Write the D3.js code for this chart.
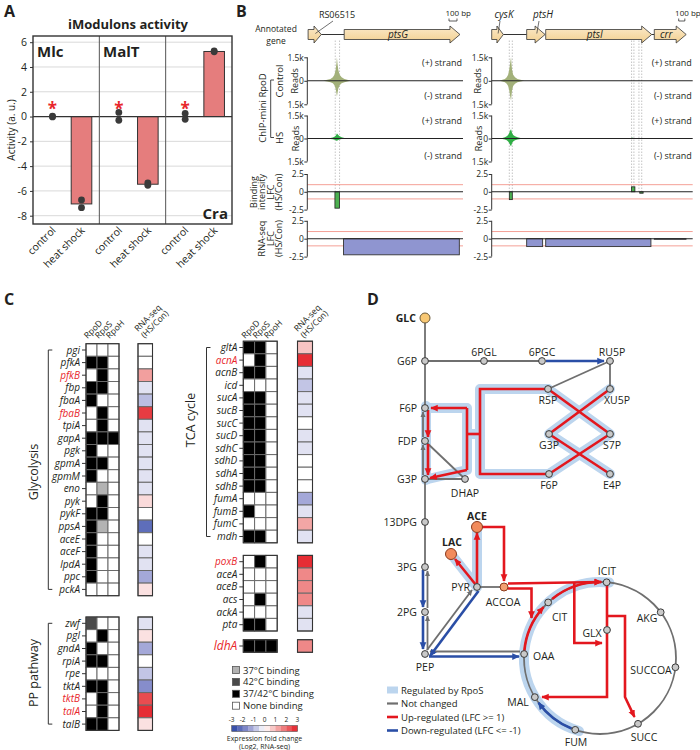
<!DOCTYPE html>
<html><head><meta charset="utf-8">
<script src="https://d3js.org/d3.v7.min.js"></script>
<style>html,body{margin:0;padding:0;background:#fff}</style>
</head><body>
<svg id="fig" width="700" height="750"></svg>
<script>
// ================= DATA =================
// Panel A – iModulon activities
const aGroups = ["Mlc","MalT","Cra"];
const aConds = ["control","heat shock"];
const aHeatMean = [-7.05,-5.46,5.25];
const aControlReps = [[0.03,-0.03],[0.33,-0.3],[0.25,-0.22]];
const aHeatReps = [[-6.73,-7.35],[-5.35,-5.55],[5.22,5.3]];
const aYTicks = [6,4,2,0,-2,-4,-6,-8];
const aSignifAt = [0.85,0.85,0.85];

// Panel B – ChIP / LFC tracks (bp relative to locus start)
const bGenesL = [{name:"RS06515",start:10,end:175,italic:false},{name:"ptsG",start:462,end:1912,italic:true}];
const bGenesR = [{name:"cysK",start:0,end:190,italic:true},{name:"ptsH",start:570,end:870,italic:true},{name:"ptsI",start:880,end:2608,italic:true},{name:"crr",start:2650,end:3170,italic:true}];
const bPeakPosL = [200,250,290,320,340,355,365,371,378,388,405,430,465,500,540];
const bCtrlPlusL = [0,60,120,220,380,700,1100,1500,1100,700,380,220,120,60,0];
const bCtrlMinusL = [0,40,90,160,280,500,800,1000,800,500,280,160,90,40,0];
const bHsPlusL = [0,20,40,70,110,180,260,330,300,230,150,80,40,15,0];
const bHsMinusL = [0,15,30,50,80,110,140,150,130,100,70,40,20,10,0];
const bPeakPosR = [130,175,215,245,268,285,300,315,322,332,350,380,420,470,530];
const bCtrlPlusR = [0,60,120,220,380,700,1100,1500,1100,700,380,220,120,60,0];
const bCtrlMinusR = [0,50,100,190,330,600,950,1250,950,600,330,190,100,50,0];
const bHsPlusR = [0,40,80,140,230,360,500,600,500,360,230,140,80,40,0];
const bHsMinusR = [0,35,70,120,190,300,420,500,420,300,190,120,70,35,0];
const bHsBlipPosR = [2262,2290,2318];
const bHsBlipR = [0,70,0];
const bBindL = [{start:346,end:404,lfc:-2.3}];
const bBindR = [{start:287,end:336,lfc:-1.1},{start:2280,end:2334,lfc:0.7},{start:2413,end:2468,lfc:-0.2}];
const bRnaL = [{start:454,end:1904,lfc:-2.25}];
const bRnaR = [{start:570,end:830,lfc:-1.1},{start:880,end:2595,lfc:-1.1},{start:2650,end:3167,lfc:-0.08}];
const bDashL = [350,404];
const bDashR = [287,336,2280,2318,2400,2445];

// Panel C – sigma factor binding (0 none,1 37C,2 42C,3 37/42C) and RNA-seq LFC
const sigmaCols = ["RpoD","RpoS","RpoH"];
const glyGenes = ["pgi","pfkA","pfkB","fbp","fbaA","fbaB","tpiA","gapA","pgk","gpmA","gpmM","eno","pyk","pykF","ppsA","aceE","aceF","lpdA","ppc","pckA"];
const glyBind = [[0,0,0],[3,3,0],[0,3,0],[3,3,0],[3,0,0],[0,3,0],[0,3,0],[3,3,3],[3,0,0],[3,3,0],[3,0,0],[0,1,0],[0,3,0],[3,3,0],[3,1,0],[3,0,0],[3,0,0],[3,0,0],[3,0,0],[0,0,0]];
const glyLFC = [0,0,1.3,-0.4,-0.9,2.6,-0.4,-0.4,-0.4,-0.4,-0.4,-0.4,0.5,0,-2.2,0,-0.4,-0.4,-1.2,0.4];
const ppGenes = ["zwf","pgl","gndA","rpiA","rpe","tktA","tktB","talA","talB"];
const ppBind = [[2,0,0],[0,3,0],[3,0,0],[3,3,0],[0,0,0],[3,3,0],[0,3,0],[0,3,0],[3,3,0]];
const ppLFC = [-0.4,0.4,-1.2,0,-0.8,-1.6,2.4,2.8,0.4];
const tcaGenes = ["gltA","acnA","acnB","icd","sucA","sucB","sucC","sucD","sdhC","sdhD","sdhA","sdhB","fumA","fumB","fumC","mdh"];
const tcaBind = [[3,3,0],[0,3,0],[3,3,0],[0,0,0],[3,3,0],[3,3,0],[3,3,0],[3,3,0],[3,3,0],[3,3,0],[3,3,0],[3,3,0],[0,0,0],[3,0,0],[0,0,0],[3,3,0]];
const tcaLFC = [0.8,2.8,-0.4,-0.8,-0.4,-0.4,0,-0.4,-0.4,0,0,0,-1.2,-0.4,1.2,-0.4];
const acGenes = ["poxB","aceA","aceB","acs","ackA","pta"];
const acBind = [[0,3,0],[0,0,0],[0,0,0],[0,3,0],[0,0,0],[3,3,0]];
const acLFC = [2.8,1.6,1.6,1.6,-0.4,-0.4];
const ldhGenes = ["ldhA"];
const ldhBind = [[3,3,3]];
const ldhLFC = [1.6];
const redGenes = ["pfkB","fbaB","tktB","talA","acnA","poxB","ldhA"];
const bindLegend = ["37\u00B0C binding","42\u00B0C binding","37/42\u00B0C binding","None binding"];
const bindLegendCode = [1,2,3,0];
const lfcTicks = [-3,-2,-1,0,1,2,3];

// Panel D – metabolic map
const dLegend = ["Regulated by RpoS","Not changed","Up-regulated (LFC >= 1)","Down-regulated (LFC <= -1)"];
const tcaNodeAngles = {ICIT:5,AKG:53,SUCCOA:97,SUCC:150,FUM:199,MAL:239,OAA:273,CIT:317};

// ================= DRAWING =================
const F = '"Open Sans", "DejaVu Sans", sans-serif';
const svg = d3.select("#fig");
svg.append("rect").attr("width",700).attr("height",750).attr("fill","#fff");

function T(g,x,y,s,size,o={}){
  const t=g.append("text").attr("x",x).attr("y",y).text(s).attr("font-size",size)
    .attr("font-family",F).attr("fill",o.fill||"#231f20").attr("text-anchor",o.anchor||"start");
  if(o.bold) t.attr("font-weight","bold");
  if(o.italic) t.attr("font-style","italic");
  if(o.rot!==undefined) t.attr("transform",`rotate(${o.rot},${x},${y})`);
  return t;
}
T(svg,4,17,"A",16,{bold:true});
T(svg,236,17,"B",16,{bold:true});
T(svg,4,305,"C",16,{bold:true});
T(svg,367,305,"D",16,{bold:true});

// ---------- Panel A ----------
(function(){
  const g=svg.append("g");
  const X0=33,X1=232,Y0=36,Y1=224;
  const ax=d3.scaleBand().domain(aGroups).range([X0,X1]);
  const axIn=d3.scalePoint().domain(aConds).range([19.5,48.5]);
  const ay=d3.scaleLinear().domain([-8.67,6.5]).range([Y1,Y0]);
  T(g,128,29,"iModulons activity",13,{bold:true,anchor:"middle"});
  g.selectAll(".gr").data(aYTicks.filter(d=>d!==0)).join("line")
    .attr("x1",X0).attr("x2",X1).attr("y1",d=>ay(d)).attr("y2",d=>ay(d))
    .attr("stroke","#d9d9d9").attr("stroke-width",1);
  g.selectAll(".bar").data(aGroups).join("rect")
    .attr("x",(d)=>ax(d)+axIn("heat shock")-10.3).attr("width",20.6)
    .attr("y",(d,i)=>ay(Math.max(0,aHeatMean[i])))
    .attr("height",(d,i)=>Math.abs(ay(aHeatMean[i])-ay(0)))
    .attr("fill","#e57d7d").attr("stroke","#333").attr("stroke-width",1);
  g.append("line").attr("x1",X0).attr("x2",X1).attr("y1",ay(0)).attr("y2",ay(0)).attr("stroke","#333").attr("stroke-width",1.3);
  g.selectAll(".dv").data(aGroups.slice(1)).join("line")
    .attr("x1",d=>ax(d)).attr("x2",d=>ax(d)).attr("y1",Y0).attr("y2",Y1).attr("stroke","#555").attr("stroke-width",1);
  aGroups.forEach((grp,i)=>{
    aControlReps[i].forEach(v=>g.append("circle").attr("cx",ax(grp)+axIn("control")).attr("cy",ay(v)).attr("r",3.4).attr("fill","#3a3a3a"));
    aHeatReps[i].forEach(v=>g.append("circle").attr("cx",ax(grp)+axIn("heat shock")).attr("cy",ay(v)).attr("r",3.4).attr("fill","#3a3a3a"));
    T(g,ax(grp)+axIn("control"),ay(aSignifAt[i])+9,"*",17,{anchor:"middle",fill:"#e8262b",bold:true});
    aConds.forEach(c=>{
      const cx=ax(grp)+axIn(c);
      g.append("text").attr("transform",`translate(${cx+4},${Y1+7}) rotate(-45)`)
        .attr("text-anchor","end").attr("font-family",F).attr("font-size",10.5).attr("fill","#231f20").text(c);
    });
  });
  g.append("rect").attr("x",X0).attr("y",Y0).attr("width",X1-X0).attr("height",Y1-Y0).attr("fill","none").attr("stroke","#333").attr("stroke-width",1.4);
  const axis=d3.axisLeft(ay).tickValues(aYTicks).tickSize(3).tickFormat(d=>String(d));
  const ag=g.append("g").attr("transform",`translate(${X0},0)`).call(axis);
  ag.select(".domain").remove();
  ag.selectAll("text").attr("font-family",F).attr("font-size",10.5).attr("fill","#231f20");
  ag.selectAll("line").attr("stroke","#333");
  T(g,15,130,"Activity (a. u.)",10,{anchor:"middle",rot:-90});
  T(g,37,57,"Mlc",15,{bold:true});
  T(g,103,57,"MalT",15,{bold:true});
  T(g,228,219,"Cra",15,{bold:true,anchor:"end"});
})();

// ---------- Panel B ----------
function geneArrow(x0,x1,yc){
  const bh=5,hh=8.5,h=Math.min(10,(x1-x0)*0.55);
  return `M${x0},${yc-bh}L${x1-h},${yc-bh}L${x1-h},${yc-hh}L${x1},${yc}L${x1-h},${yc+hh}L${x1-h},${yc+bh}L${x0},${yc+bh}Z`;
}
const gradDefs=svg.append("defs");
const gr=gradDefs.append("linearGradient").attr("id","geneGrad").attr("x1",0).attr("y1",0).attr("x2",0).attr("y2",1);
gr.append("stop").attr("offset","0%").attr("stop-color","#fbeacb");
gr.append("stop").attr("offset","100%").attr("stop-color","#f2cf8e");

const tracks=[
  {key:"ctrl",zero:80.8,top:57.3,bot:104.3,max:1500,labels:["1.5k","0","1.5k"]},
  {key:"hs",zero:138.5,top:115.5,bot:161.5,max:1500,labels:["1.5k","0","1.5k"]},
  {key:"bind",zero:191.8,top:174,bot:209.6,max:2.5,labels:["2.5","0","-2.5"]},
  {key:"rna",zero:238.7,top:220.8,bot:256.6,max:2.5,labels:["2.5","0","-2.5"]}
];
function drawLocus(cfg){
  const g=svg.append("g");
  const x=d3.scaleLinear().domain([0,cfg.len]).range([cfg.x0,cfg.x1]);
  const ys=tracks.map(t=>d3.scaleLinear().domain([-t.max,t.max]).range([t.bot,t.top]));
  const GY=34.5;
  g.selectAll(".dash").data(cfg.dash).join("line").attr("x1",d=>x(d)).attr("x2",d=>x(d))
    .attr("y1",GY+6).attr("y2",tracks[2].zero).attr("stroke","#b5b5b5").attr("stroke-width",0.8).attr("stroke-dasharray","1.5,1.5");
  [2,3].forEach(k=>{
    [1,-1].forEach(v=>g.append("line").attr("x1",cfg.x0).attr("x2",cfg.trackEnd).attr("y1",ys[k](v)).attr("y2",ys[k](v)).attr("stroke","#f4a096").attr("stroke-width",1));
  });
  const areaP=(pos,vals,yy)=>d3.area().x((d,i)=>x(pos[i])).y0(yy(0)).y1(d=>yy(d))(vals);
  const areaM=(pos,vals,yy)=>d3.area().x((d,i)=>x(pos[i])).y0(yy(0)).y1(d=>yy(-d))(vals);
  g.append("path").attr("d",areaP(cfg.pos,cfg.ctrlPlus,ys[0])).attr("fill","#a3b17a");
  g.append("path").attr("d",areaM(cfg.pos,cfg.ctrlMinus,ys[0])).attr("fill","#a3b17a");
  g.append("path").attr("d",areaP(cfg.pos,cfg.hsPlus,ys[1])).attr("fill","#2fae45");
  g.append("path").attr("d",areaM(cfg.pos,cfg.hsMinus,ys[1])).attr("fill","#2fae45");
  if(cfg.blipPos) g.append("path").attr("d",areaP(cfg.blipPos,cfg.blip,ys[1])).attr("fill","#2fae45");
  g.selectAll(".bb").data(cfg.bind).join("rect").attr("x",d=>x(d.start)).attr("width",d=>x(d.end)-x(d.start))
    .attr("y",d=>ys[2](Math.max(0,d.lfc))).attr("height",d=>Math.abs(ys[2](d.lfc)-ys[2](0)))
    .attr("fill","#4cb050").attr("stroke","#222").attr("stroke-width",0.8);
  g.selectAll(".rb").data(cfg.rna).join("rect").attr("x",d=>x(d.start)).attr("width",d=>x(d.end)-x(d.start))
    .attr("y",d=>ys[3](Math.max(0,d.lfc))).attr("height",d=>Math.abs(ys[3](d.lfc)-ys[3](0)))
    .attr("fill","#8f95d0").attr("stroke","#333").attr("stroke-width",0.9);
  tracks.forEach((t,k)=>{
    g.append("line").attr("x1",cfg.x0).attr("x2",cfg.trackEnd).attr("y1",t.zero).attr("y2",t.zero).attr("stroke","#222").attr("stroke-width",1.1);
    const axis=d3.axisLeft(ys[k]).tickValues([t.max,0,-t.max]).tickSize(3).tickFormat((d,i)=>t.labels[i]);
    const ag=g.append("g").attr("transform",`translate(${cfg.x0},0)`).call(axis);
    ag.select(".domain").attr("stroke","#333").attr("d",`M0,${t.top}V${t.bot}`);
    ag.selectAll("line").attr("stroke","#333");
    ag.selectAll("text").attr("font-family",F).attr("font-size",8.5).attr("fill","#231f20").attr("x",-3.5);
  });
  [[66,"(+) strand"],[99,"(-) strand"],[124,"(+) strand"],[159,"(-) strand"]].forEach(([y,s])=>T(g,cfg.trackEnd-1,y,s,9,{anchor:"end"}));
  T(g,cfg.readsX,tracks[0].zero,"Reads",9,{anchor:"middle",rot:-90});
  T(g,cfg.readsX,tracks[1].zero,"Reads",9,{anchor:"middle",rot:-90});
  for(let i=0;i<cfg.genes.length-1;i++){
    const a=cfg.genes[i],b=cfg.genes[i+1];
    if(x(b.start)-x(a.end)>1) g.append("line").attr("x1",x(a.end)).attr("x2",x(b.start)).attr("y1",GY).attr("y2",GY).attr("stroke","#333").attr("stroke-width",1);
  }
  g.selectAll(".gene").data(cfg.genes).join("path").attr("d",d=>geneArrow(x(d.start),x(d.end),GY))
    .attr("fill","url(#geneGrad)").attr("stroke","#333").attr("stroke-width",0.8);
  cfg.genes.forEach(d=>{
    const lx=cfg.labelX[d.name];
    if(lx===undefined){
      T(g,(x(d.start)+x(d.end)-8)/2,GY+3.5,d.name,10,{anchor:"middle",italic:d.italic});
    } else {
      T(g,lx,18,d.name,d.italic?10:9,{anchor:"middle",italic:d.italic});
      g.append("line").attr("x1",lx-4).attr("y1",21).attr("x2",x(d.start)+(x(d.end)-x(d.start))*0.55).attr("y2",GY-1).attr("stroke","#333").attr("stroke-width",0.7);
    }
  });
  T(g,cfg.trackEnd+8,16,"100 bp",8,{anchor:"end"});
  const sbx=cfg.trackEnd-14;
  g.append("path").attr("d",`M${sbx},18.5V21H${sbx+x(100)-x(0)}V18.5`).attr("fill","none").attr("stroke","#333").attr("stroke-width",0.8);
}
drawLocus({x0:307.3,x1:463,trackEnd:463,len:1950,readsX:298.5,genes:bGenesL,labelX:{"RS06515":337},
  pos:bPeakPosL,ctrlPlus:bCtrlPlusL,ctrlMinus:bCtrlMinusL,hsPlus:bHsPlusL,hsMinus:bHsMinusL,
  bind:bBindL,rna:bRnaL,dash:bDashL});
drawLocus({x0:491.7,x1:692.7,trackEnd:692.7,len:3276,readsX:481.5,genes:bGenesR,labelX:{"cysK":504,"ptsH":543},
  pos:bPeakPosR,ctrlPlus:bCtrlPlusR,ctrlMinus:bCtrlMinusR,hsPlus:bHsPlusR,hsMinus:bHsMinusR,blipPos:bHsBlipPosR,blip:bHsBlipR,
  bind:bBindR,rna:bRnaR,dash:bDashR});
(function(){
  const g=svg.append("g");
  T(g,276,31.5,"Annotated",8.5,{anchor:"middle"});
  T(g,276,43.5,"gene",8.5,{anchor:"middle"});
  T(g,283,81,"Control",9.5,{anchor:"middle",rot:-90});
  T(g,283,138,"HS",9.5,{anchor:"middle",rot:-90});
  T(g,266,108,"ChIP-mini RpoD",9.5,{anchor:"middle",rot:-90});
  g.append("path").attr("d","M274,80H270.7V137.5H274").attr("fill","none").attr("stroke","#333").attr("stroke-width",0.9);
  ["Binding","intensity","LFC","(HS/Con)"].forEach((s,i)=>T(g,256.5+i*8.5,192,s,9,{anchor:"middle",rot:-90}));
  ["RNA-seq","LFC","(HS/Con)"].forEach((s,i)=>T(g,265+i*8.5,238.5,s,9,{anchor:"middle",rot:-90}));
})();

// ---------- Panel C ----------
const bindFill=d3.scaleOrdinal().domain([0,1,2,3]).range(["#ffffff","#b3b3b3","#4a4a4a","#000000"]);
const lfcColor=d3.scaleLinear().domain([-3,-1.5,0,1.5,3]).range(["#2844a3","#8d92ce","#ffffff","#f0908f","#e41e26"]);
function drawHeat(g,genes,bind,lfc,o){
  const y=d3.scaleBand().domain(genes).range([o.y0,o.y0+o.pitch*genes.length]);
  const xc=d3.scaleBand().domain(sigmaCols).range([o.x0,o.x0+o.cw*3]);
  genes.forEach((gn,i)=>{
    sigmaCols.forEach((c,j)=>{
      g.append("rect").attr("x",xc(c)).attr("y",y(gn)).attr("width",xc.bandwidth()).attr("height",y.bandwidth())
        .attr("fill",bindFill(bind[i][j])).attr("stroke","#6a6a6a").attr("stroke-width",1);
    });
    g.append("rect").attr("x",o.rx).attr("y",y(gn)).attr("width",o.rw).attr("height",y.bandwidth())
      .attr("fill",lfcColor(lfc[i])).attr("stroke","#6a6a6a").attr("stroke-width",1);
    const red=redGenes.includes(gn);
    T(g,o.x0-6,y(gn)+y.bandwidth()/2+3.5,gn,o.fs||10,{anchor:"end",italic:true,fill:red?"#e8262b":"#231f20"});
    g.append("line").attr("x1",o.x0-4).attr("x2",o.x0).attr("y1",y(gn)+y.bandwidth()/2).attr("y2",y(gn)+y.bandwidth()/2).attr("stroke","#333");
  });
  g.append("rect").attr("x",o.x0).attr("y",o.y0).attr("width",o.cw*3).attr("height",o.pitch*genes.length).attr("fill","none").attr("stroke","#333").attr("stroke-width",1.1);
  g.append("rect").attr("x",o.rx).attr("y",o.y0).attr("width",o.rw).attr("height",o.pitch*genes.length).attr("fill","none").attr("stroke","#333").attr("stroke-width",1.1);
  return y;
}
(function(){
  const g=svg.append("g");
  const P=12.6;
  const L={x0:86,cw:11,rx:138,rw:14.5,pitch:P};
  const R={x0:243.3,cw:11.3,rx:297.5,rw:15,pitch:P};
  drawHeat(g,glyGenes,glyBind,glyLFC,Object.assign({y0:350-P/2},L));
  drawHeat(g,ppGenes,ppBind,ppLFC,Object.assign({y0:623.3-P/2},L));
  drawHeat(g,tcaGenes,tcaBind,tcaLFC,Object.assign({y0:347.5-P/2},R));
  drawHeat(g,acGenes,acBind,acLFC,Object.assign({y0:561.7-P/2},R));
  drawHeat(g,ldhGenes,ldhBind,ldhLFC,Object.assign({y0:646-P/2,fs:12},R));
  [L,R].forEach(o=>{
    sigmaCols.forEach((c,j)=>{
      g.append("text").attr("transform",`translate(${o.x0+o.cw*j+o.cw/2-4},${339})rotate(-45)`).attr("font-family",F).attr("font-size",8.5).attr("fill","#231f20").text(c);
    });
    g.append("text").attr("transform",`translate(${o.rx},${332})rotate(-45)`).attr("font-family",F).attr("font-size",8.5).attr("fill","#231f20").text("RNA-seq");
    g.append("text").attr("transform",`translate(${o.rx+6.5},${338.5})rotate(-45)`).attr("font-family",F).attr("font-size",8.5).attr("fill","#231f20").text("(HS/Con)");
  });
  const br=(x,yA,yB)=>g.append("path").attr("d",`M${x+4},${yA}H${x}V${yB}H${x+4}`).attr("fill","none").attr("stroke","#333").attr("stroke-width",1);
  br(48.3,350,589.4); br(48.3,623.3,724.1); br(206.5,347.5,536.5);
  T(g,38,472,"Glycolysis",12.5,{anchor:"middle",rot:-90});
  T(g,38,673,"PP  pathway",12.5,{anchor:"middle",rot:-90});
  T(g,195,420,"TCA cycle",12.5,{anchor:"middle",rot:-90});
  bindLegend.forEach((s,i)=>{
    const yy=670+i*11.9;
    g.append("rect").attr("x",232.5).attr("y",yy-3.5).attr("width",7).attr("height",7).attr("fill",bindFill(bindLegendCode[i])).attr("stroke","#555").attr("stroke-width",0.8);
    T(g,243,yy+3.5,s,9.5);
  });
  const cx=d3.scaleLinear().domain([-3,3]).range([231.7,297.3]);
  const steps=d3.range(-3,3,0.5);
  g.selectAll(".cb").data(steps).join("rect").attr("x",d=>cx(d)).attr("width",cx(0.5)-cx(0)+0.3).attr("y",725.5).attr("height",6)
    .attr("fill",d=>lfcColor(d+0.25));
  g.append("rect").attr("x",cx(-3)).attr("y",725.5).attr("width",cx(3)-cx(-3)).attr("height",6).attr("fill","none").attr("stroke","#555").attr("stroke-width",0.6);
  lfcTicks.forEach(t=>T(g,cx(t),722,String(t),6.5,{anchor:"middle"}));
  T(g,264.5,741,"Expression fold change",7,{anchor:"middle"});
  T(g,264.5,748.5,"(Log2, RNA-seq)",7,{anchor:"middle"});
})();

// ---------- Panel D ----------
(function(){
  const g=svg.append("g");
  const C={cx:600,cy:658,r:76};
  const polar=a=>[C.cx+C.r*Math.sin(a*Math.PI/180),C.cy-C.r*Math.cos(a*Math.PI/180)];
  const pos={GLC:[425,318],G6P:[425,361],"6PGL":[484,361],"6PGC":[542,361],RU5P:[610,361],F6P:[425,408],FDP:[425,441],G3P:[425,479],
    DHAP:[465,479],R5P:[548,389],XU5P:[610,389],G3Pb:[549,434],S7P:[610,434],F6Pb:[549,474],E4P:[610,474],
    "13DPG":[425,522],"3PG":[425,567],"2PG":[425,612],PEP:[425,654],PYR:[477,587],LAC:[451,554],ACE:[477,527],ACCOA:[504,587],GLX:[607,630]};
  Object.keys(tcaNodeAngles).forEach(k=>pos[k]=polar(tcaNodeAngles[k]));
  const COL={up:"#e3171e",down:"#2a4ea6",nc:"#6f6f6f",halo:"#bcd5ee"};
  const defs=svg.append("defs");
  [["up",7.5],["down",7.5],["nc",6]].forEach(([k,s])=>{
    defs.append("marker").attr("id","ar-"+k).attr("viewBox","0 0 10 10").attr("refX",9).attr("refY",5)
      .attr("markerWidth",s).attr("markerHeight",s).attr("markerUnits","userSpaceOnUse").attr("orient","auto")
      .append("path").attr("d","M0,0.5L10,5L0,9.5Z").attr("fill",COL[k]);
  });
  const line=d3.line();
  const arcPath=(a0,a1,r=C.r)=>{const p=d3.path();p.arc(C.cx,C.cy,r,(a0-90)*Math.PI/180,(a1-90)*Math.PI/180,false);return p.toString();};
  const halos=[
    [[548,389],[480,389],[480,474],[549,474]],
    [[548,389],[610,434],[549,474]],[[610,389],[549,434],[610,474]],
    [[480,434],[467,434]],[[430,408],[467,408],[467,470],[428,479]],
    [[426,406],[426,480]],
    [[451,554],[477,587]],[[477,527],[477,587]]
  ];
  halos.forEach(p=>g.append("path").attr("d",line(p)).attr("fill","none").attr("stroke",COL.halo).attr("stroke-width",10).attr("stroke-linejoin","round").attr("stroke-linecap","round"));
  g.append("path").attr("d",arcPath(196,367)).attr("fill","none").attr("stroke",COL.halo).attr("stroke-width",10).attr("stroke-linecap","round");
  g.append("circle").attr("cx",C.cx).attr("cy",C.cy).attr("r",C.r).attr("fill","none").attr("stroke",COL.nc).attr("stroke-width",1.8);
  const edges=[
    [[[425,318],[425,408]],"nc",0],
    [[[423,437],[423,412]],"nc",1],[[[423,475],[423,445]],"nc",1],
    [[[425,479],[425,567]],"nc",0],
    [[[427.5,608],[427.5,571]],"nc",1],[[[427.5,650],[427.5,616]],"nc",1],
    [[[425,441],[465,479]],"nc",0],[[[425,479],[465,479]],"nc",0],
    [[[425,361],[542,361]],"nc",0],
    [[[610,361],[548,389]],"nc",0],[[[610,361],[610,389]],"nc",0],
    [[[477,587],[504,587]],"nc",0],
    [[[427,650],[472,590]],"nc",1],
    [[[520,651.5],[430,651.5]],"nc",1],
    [[[546,361],[604,361]],"down",1],
    [[[423,570],[423,607]],"down",1],[[[423,616],[423,649]],"down",1],
    [[[478.5,591],[430,656]],"down",1],
    [[[429,656.5],[519,656.5]],"down",1],
    [[[428,410],[428,437]],"up",1],[[[428,444],[428,475]],"up",1],
    [[[548,389],[480,389],[480,474],[549,474]],"up",0],
    [[[480,434],[467,434]],"up",0],[[[467,408],[467,470]],"up",0],
    [[[467,408],[431,408]],"up",1],[[[467,470],[430,478]],"up",1],
    [[[548,389],[610,434]],"up",0],[[[610,389],[549,434]],"up",0],[[[549,434],[610,474]],"up",0],[[[610,434],[549,474]],"up",0],
    [[[476,585],[455,559]],"up",1],
    [[[477,585],[477,533]],"up",1],
    [[[482,527],[504,527],[504,581]],"up",1],
    [[[508,583.5],[601,582]],"up",1],
    [[[508,588.5],[531.5,588.5],[531.5,618]],"up",1],
    [[[574.3,583],[574.3,643],[602,643]],"up",1],
    [[[607,585],[607,697],[542,697]],"up",1],
    [[[607,616],[625,616],[625,697],[634.5,717]],"up",1]
  ];
  edges.forEach(([p,s,a])=>{
    const e=g.append("path").attr("d",line(p)).attr("fill","none").attr("stroke",COL[s]).attr("stroke-width",s==="nc"?1.8:2.6).attr("stroke-linejoin","miter");
    if(a) e.attr("marker-end",`url(#ar-${s})`);
  });
  [[275,312,"up"],[321,361,"up"],[202,234,"down"]].forEach(([a0,a1,s])=>{
    g.append("path").attr("d",arcPath(a0,a1)).attr("fill","none").attr("stroke",COL[s]).attr("stroke-width",2.6).attr("marker-end",`url(#ar-${s})`);
  });
  Object.keys(pos).forEach(k=>{
    let r=3.4,fill="#c9c9c9",st="#3a3a3a";
    if(k==="GLC"){r=5;fill="#f8c874";st="#6b5a3a";}
    if(k==="LAC"||k==="ACE"){r=5.5;fill="#f28b5c";st="#8a3a1c";}
    if(k==="ACCOA"){r=4;fill="#f4a070";st="#8a3a1c";}
    g.append("circle").attr("cx",pos[k][0]).attr("cy",pos[k][1]).attr("r",r).attr("fill",fill).attr("stroke",st).attr("stroke-width",1);
  });
  const labs=[["GLC",416,322,"end",1],["G6P",417,365,"end"],["6PGL",484,356,"middle"],["6PGC",542,356,"middle"],["RU5P",612,356,"middle"],
    ["F6P",417,412,"end"],["FDP",417,445,"end"],["G3P",417,483,"end"],["DHAP",465,497,"middle"],["R5P",548,404,"middle"],["XU5P",617,404,"middle"],
    ["G3P",549,449,"middle"],["S7P",612,449,"middle"],["F6P",549,489,"middle"],["E4P",612,489,"middle"],["13DPG",417,526,"end"],
    ["ACE",477,520,"middle",1],["LAC",452,546,"middle",1],["3PG",417,571,"end"],["PYR",470,591,"end"],["ICIT",607,575,"middle"],
    ["ACCOA",503,606,"middle"],["CIT",552,621,"start"],["AKG",647,622,"middle"],["2PG",417,616,"end"],["GLX",592,637,"middle"],
    ["OAA",533,660,"start"],["PEP",425,671,"middle"],["SUCCOA",651,674,"middle"],["MAL",518,706,"middle"],["SUCC",644,741,"middle"],["FUM",576,746,"middle"]];
  labs.forEach(([s,x,y,a,b])=>T(g,x,y,s,10.5,{anchor:a,bold:!!b}));
  const legSt=[["halo",7],["nc",2.2],["up",2.6],["down",2.6]];
  dLegend.forEach((s,i)=>{
    const yy=690+i*13.5;
    g.append("line").attr("x1",387).attr("x2",398).attr("y1",yy).attr("y2",yy).attr("stroke",COL[legSt[i][0]]).attr("stroke-width",legSt[i][1]);
    T(g,401,yy+3.5,s,9.5);
  });
})();
</script></body></html>
